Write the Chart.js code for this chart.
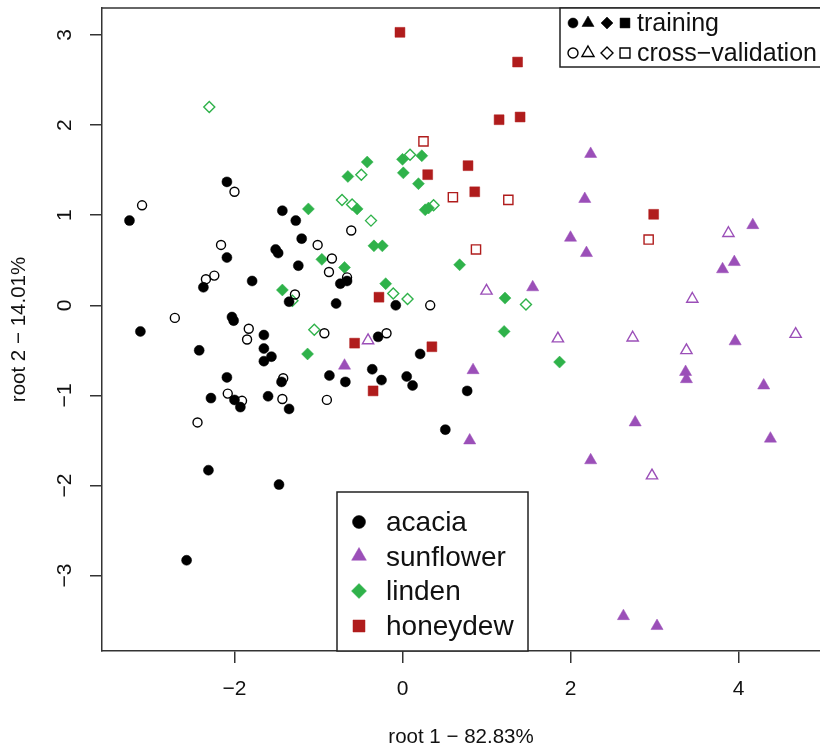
<!DOCTYPE html>
<html>
<head>
<meta charset="utf-8">
<script src="https://cdn.jsdelivr.net/npm/chart.js"></script>
<style>
  html, body { margin: 0; padding: 0; background: #fff; overflow: hidden; }
  #wrap { width: 820px; height: 750px; position: relative; overflow: hidden; }
  canvas { display: block; }
</style>
</head>
<body>
<div id="wrap"><canvas id="myChart"></canvas></div>
<script>
// discriminant scores, [root 1, root 2]
const acaciaTraining = [
  [-3.25, 0.94], [-2.09, 1.37], [-2.09, 0.53], [-2.37, 0.20], [-1.79, 0.27],
  [-1.51, 0.62], [-1.48, 0.58], [-1.20, 0.74], [-1.24, 0.44], [-0.74, 0.24],
  [-0.66, 0.27], [-1.35, 0.04], [-0.79, 0.02], [-3.12, -0.29], [-2.03, -0.13],
  [-2.01, -0.17], [-1.65, -0.33], [-1.65, -0.48], [-1.56, -0.57], [-1.65, -0.62],
  [-2.42, -0.50], [-2.09, -0.80], [-2.28, -1.03], [-2.00, -1.05], [-1.93, -1.13],
  [-1.60, -1.01], [-1.35, -1.15], [-1.44, -0.85], [-2.31, -1.83], [-1.47, -1.99],
  [-2.57, -2.83], [-0.29, -0.35], [-0.87, -0.78], [-0.68, -0.85], [-0.36, -0.71],
  [-0.25, -0.83], [0.05, -0.79], [0.12, -0.89], [0.21, -0.54], [-0.08, 0.00],
  [0.77, -0.95], [0.51, -1.38], [-1.43, 1.05], [-1.27, 0.94]
];
const acaciaCV = [
  [-3.10, 1.11], [-2.00, 1.26], [-2.16, 0.67], [-2.24, 0.33], [-2.34, 0.29],
  [-1.01, 0.67], [-0.84, 0.52], [-0.875, 0.37], [-0.66, 0.31], [-1.28, 0.12],
  [-2.71, -0.14], [-1.83, -0.26], [-1.85, -0.38], [-2.08, -0.98], [-1.91, -1.06],
  [-1.42, -0.81], [-1.43, -1.04], [-2.44, -1.30], [-0.93, -0.31], [-0.19, -0.31],
  [-0.90, -1.05], [0.33, 0.00], [-0.61, 0.83]
];
const sunflowerTraining = [
  [-0.69, -0.67], [0.84, -0.72], [0.80, -1.50], [1.55, 0.20], [2.00, 0.75],
  [2.19, 0.58], [3.81, 0.40], [3.95, 0.48], [3.37, -0.74], [3.38, -0.82],
  [3.96, -0.40], [4.30, -0.89], [4.38, -1.48], [2.77, -1.30], [2.24, -1.72],
  [2.63, -3.45], [3.03, -3.56], [2.24, 1.68], [2.17, 1.18], [4.17, 0.89]
];
const sunflowerCV = [
  [-0.41, -0.39], [1.00, 0.16], [1.85, -0.37], [3.88, 0.80], [3.45, 0.07],
  [2.74, -0.36], [3.38, -0.50], [4.68, -0.32], [2.97, -1.89]
];
const lindenTraining = [
  [-1.43, 0.17], [-1.13, -0.54], [1.87, -0.63], [1.21, -0.29], [1.22, 0.08],
  [0.68, 0.45], [0.00, 1.62], [0.23, 1.66], [0.01, 1.47], [0.19, 1.35],
  [0.27, 1.06], [0.31, 1.08], [-0.24, 0.66], [-0.34, 0.66], [-0.20, 0.24],
  [-0.42, 1.59], [-0.65, 1.43], [-0.54, 1.07], [-1.12, 1.07], [-0.96, 0.51],
  [-0.69, 0.42]
];
const lindenCV = [
  [-2.30, 2.20], [-1.05, -0.27], [-0.11, 0.13], [0.06, 0.07], [1.47, 0.01],
  [0.09, 1.67], [0.37, 1.11], [-0.49, 1.45], [-0.72, 1.17], [-0.60, 1.12],
  [-0.375, 0.94], [-1.31, 0.05]
];
const honeydewTraining = [
  [-0.03, 3.03], [1.37, 2.70], [1.15, 2.06], [1.40, 2.09], [0.78, 1.55],
  [0.30, 1.45], [0.86, 1.26], [2.99, 1.01], [-0.28, 0.09], [-0.57, -0.42],
  [-0.35, -0.95], [0.35, -0.46]
];
const honeydewCV = [
  [0.25, 1.82], [0.60, 1.20], [1.26, 1.17], [0.875, 0.62], [2.93, 0.73]
];

const classes = ['acacia', 'sunflower', 'linden', 'honeydew'];
const xTicks = [-2, 0, 2, 4];
const yTicks = [-3, -2, -1, 0, 1, 2, 3];
const xTitle = 'root 1 \u2212 82.83%';
const yTitle = 'root 2 \u2212 14.01%';
const setLabels = ['training', 'cross\u2212validation'];

const FONT = '"Liberation Sans", Arial, Helvetica, sans-serif';
const AXIS = '#333';
const colors = { acacia: '#000000', sunflower: '#9b4fb8', linden: '#2fb24a', honeydew: '#b01c1c' };
const shapes = { acacia: 'circle', sunflower: 'triangle', linden: 'rectRot', honeydew: 'rect' };
const radii = { acacia: 5, sunflower: 7, linden: 6, honeydew: 7 };

const toXY = arr => arr.map(p => ({ x: p[0], y: p[1] }));
function series(name, pts, open) {
  const c = colors[name];
  return {
    label: name + (open ? ' cv' : ''),
    data: toXY(pts),
    pointStyle: shapes[name],
    pointRadius: open ? radii[name] - 0.5 : radii[name],
    pointBackgroundColor: open ? 'rgba(0,0,0,0)' : c,
    pointBorderColor: c,
    pointBorderWidth: open ? 1.4 : 0.5,
    showLine: false
  };
}

const datasets = [
  series('acacia', acaciaTraining, false),
  series('acacia', acaciaCV, true),
  series('sunflower', sunflowerTraining, false),
  series('sunflower', sunflowerCV, true),
  series('linden', lindenTraining, false),
  series('linden', lindenCV, true),
  series('honeydew', honeydewTraining, false),
  series('honeydew', honeydewCV, true)
];

function mark(ctx, shape, color, open, x, y, r) {
  ctx.save();
  ctx.fillStyle = open ? 'rgba(0,0,0,0)' : color;
  ctx.strokeStyle = color;
  ctx.lineWidth = open ? 1.4 : 0.5;
  Chart.helpers.drawPoint(ctx, { pointStyle: shape, radius: r, rotation: 0, borderWidth: ctx.lineWidth }, x, y);
  ctx.restore();
}

const boxAndLegends = {
  id: 'boxAndLegends',
  afterDatasetsDraw(chart) {
    const ctx = chart.ctx;
    const a = chart.chartArea;
    ctx.save();
    ctx.strokeStyle = AXIS;
    ctx.lineWidth = 1.5;
    ctx.beginPath();
    ctx.moveTo(a.left, a.top);
    ctx.lineTo(a.right + 2, a.top);
    ctx.stroke();

    // top legend: training / cross-validation markers
    ctx.fillStyle = '#fff';
    ctx.fillRect(560, a.top, 270, 59);
    ctx.strokeStyle = '#222';
    ctx.strokeRect(560, a.top, 270, 59);
    const sx = [573, 588, 607, 625];
    const sr = [5, 7, 6, 7];
    [0, 1].forEach(row => {
      const yy = row === 0 ? 23 : 53;
      classes.forEach((c, i) => mark(ctx, shapes[c], '#000', row === 1, sx[i], yy, sr[i]));
      ctx.fillStyle = '#111';
      ctx.font = '25px ' + FONT;
      ctx.textBaseline = 'middle';
      ctx.textAlign = 'left';
      ctx.fillText(setLabels[row], 637, yy + 1);
    });

    // bottom legend: class colours
    ctx.fillStyle = '#fff';
    ctx.fillRect(337, 492, 191, a.bottom - 492);
    ctx.strokeStyle = '#222';
    ctx.lineWidth = 1.5;
    ctx.strokeRect(337, 492, 191, a.bottom - 492);
    const rowsY = [522, 557, 591, 626];
    const lr = [6.5, 8.5, 7.5, 8.5];
    classes.forEach((c, i) => {
      mark(ctx, shapes[c], colors[c], false, 359, rowsY[i] - (c === 'sunflower' ? 1 : 0), lr[i]);
      ctx.fillStyle = '#111';
      ctx.font = '28px ' + FONT;
      ctx.textBaseline = 'middle';
      ctx.textAlign = 'left';
      ctx.fillText(c, 386, rowsY[i] + 1);
    });
    ctx.restore();
  }
};

new Chart(document.getElementById('myChart'), {
  type: 'scatter',
  data: { datasets },
  plugins: [boxAndLegends],
  options: {
    responsive: true,
    maintainAspectRatio: false,
    animation: false,
    events: [],
    layout: { autoPadding: false, padding: { top: 8, left: 0, right: 0, bottom: 0 } },
    plugins: { legend: { display: false }, tooltip: { enabled: false } },
    scales: {
      x: {
        type: 'linear',
        min: -3.577,
        max: 4.97,
        afterBuildTicks: axis => { axis.ticks = xTicks.map(v => ({ value: v })); },
        afterFit: s => { s.height = 99; s.paddingLeft = 0; s.paddingRight = 0; },
        grid: { display: true, drawOnChartArea: false, drawTicks: true, tickLength: 12, color: AXIS, lineWidth: 1.5 },
        border: { display: true, color: AXIS, width: 1.5 },
        ticks: {
          padding: 14,
          color: '#111',
          font: { family: FONT, size: 21 },
          callback: v => String(v).replace('-', '\u2212')
        },
        title: { display: true, text: xTitle, color: '#111', font: { family: FONT, size: 20.5 }, padding: { top: 0, bottom: 0 } }
      },
      y: {
        type: 'linear',
        min: -3.837,
        max: 3.30,
        afterBuildTicks: axis => { axis.ticks = yTicks.map(v => ({ value: v })); },
        afterFit: s => { s.width = 102; s.paddingTop = 0; s.paddingBottom = 0; },
        grid: { display: true, drawOnChartArea: false, drawTicks: true, tickLength: 12, color: AXIS, lineWidth: 1.5 },
        border: { display: true, color: AXIS, width: 1.5 },
        ticks: {
          minRotation: 90,
          maxRotation: 90,
          crossAlign: 'center',
          padding: 13,
          color: '#111',
          font: { family: FONT, size: 21 },
          callback: v => String(v).replace('-', '\u2212')
        },
        title: { display: true, text: yTitle, color: '#111', font: { family: FONT, size: 20.5 }, padding: { top: 7, bottom: 0 } }
      }
    }
  }
});
</script>
</body>
</html>
